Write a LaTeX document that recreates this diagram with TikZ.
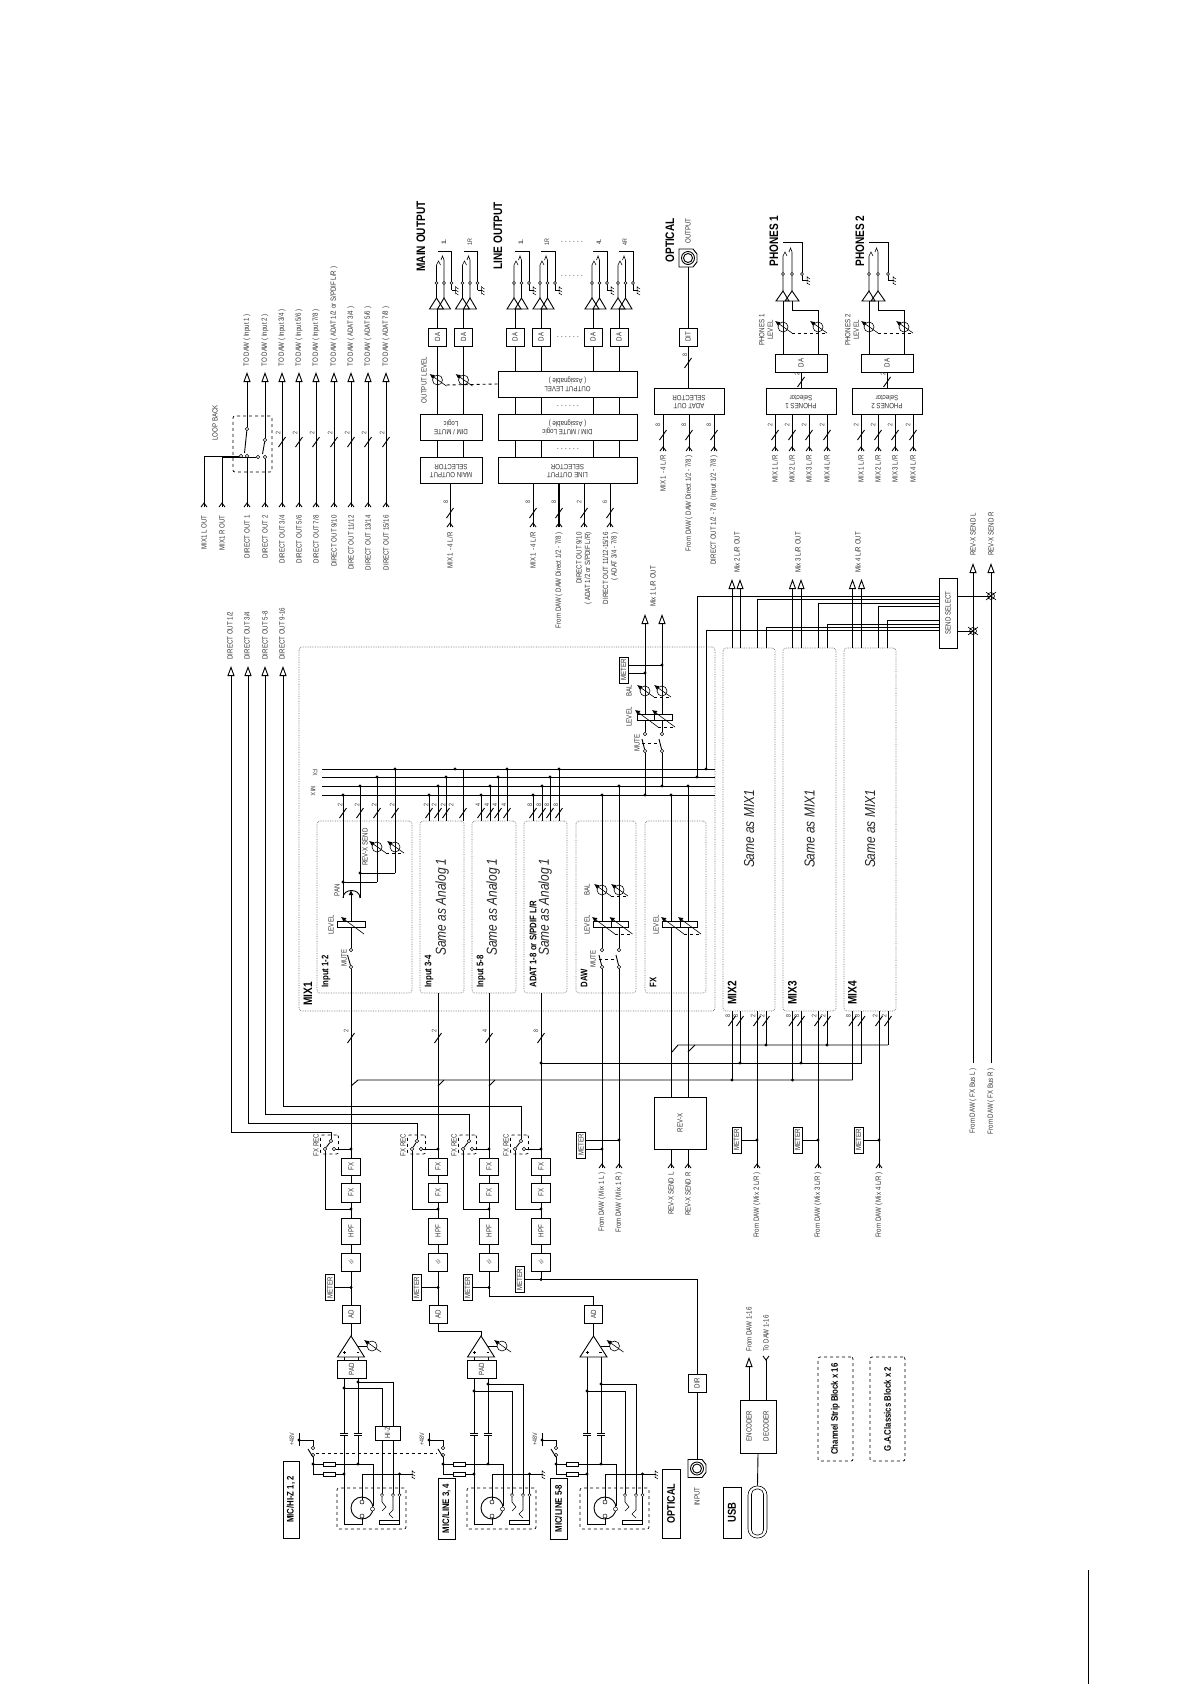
\documentclass[tikz,border=0pt]{standalone}
\usepackage{fontspec}
\setmainfont[FakeStretch=0.82]{Liberation Sans}
\usetikzlibrary{arrows.meta}
\newcommand{\smallfont}{\fontsize{7.5}{8.5}\selectfont}
\newcommand{\vt}[1]{\rotatebox{90}{#1}}
\newcommand{\ud}[1]{\rotatebox{180}{\begin{tabular}{@{}c@{}}#1\end{tabular}}}
\tikzset{
  lab/.style={rotate=90,inner sep=0pt,font=\smallfont,text=black!80},
  num/.style={rotate=90,inner sep=0pt,font=\fontsize{6.5}{7}\selectfont,text=black!80},
  ttl/.style={rotate=90,inner sep=0pt,font=\bfseries\fontsize{12.3}{13}\selectfont},
  bld/.style={rotate=90,inner sep=0pt,font=\bfseries\fontsize{9.5}{10}\selectfont},
  same/.style={rotate=90,inner sep=0pt,font=\itshape\fontsize{14.5}{15}\selectfont,text=black!85},
  blk/.style 2 args={draw,fill=white,inner sep=0pt,minimum width=#1pt,minimum height=#2pt,font=\smallfont,text=black!80},
  grp/.style 2 args={draw=black!55,densely dotted,line width=0.7pt,rounded corners=3pt,inner sep=0pt,minimum width=#1pt,minimum height=#2pt},
  dashbox/.style 2 args={draw,dashed,line width=0.7pt,rounded corners=2pt,inner sep=0pt,minimum width=#1pt,minimum height=#2pt},
  swc/.style={circle,draw,fill=white,inner sep=0pt,minimum size=3.6pt,line width=0.6pt},
  outw/.style={-{Triangle[open,length=10pt,width=7pt]}},
  inhead/.pic={\draw (-3,4) -- (0,0) -- (3,4);},
  slashmark/.pic={\draw (-3.5,5) -- (3.5,-5);},
  potmark/.pic={\draw[line width=0.6pt] (0,0) circle (5);
    \draw[line width=0.6pt,-{Latex[length=5pt,width=4.5pt]}] (9,6) -- (-8,-6);},
  fadearrow/.pic={\draw[line width=0.6pt,-{Latex[length=5pt,width=5pt]}] (13,10) -- (-10,-7);},
  gndmark/.pic={\draw[line width=0.5pt] (0,-4) -- (0,4) (0,-3) -- (3,-1) (0,0) -- (3,2) (0,3) -- (3,5);},
  outjack/.pic={
    \draw (-8,0) -- (-1,-11) -- (6,0) -- cycle;
    \draw (0,0) -- (6.5,-11) -- (13,0) -- cycle;
    \draw[line width=0.6pt] (-1,-11) -- (-1,-44) (-1,-44) -- (1,-48) -- (3,-44);
    \draw[line width=0.6pt] (6.5,-11) -- (6.5,-49) (6.5,-49) -- (5,-53) -- (3.5,-49);
    \draw (14,-19) -- (14,-58) -- (0,-58);
    \draw (14,-19) -- (18,-19);
    \pic at (18,-19) {gndmark};
    \foreach \p in {-1,6.5,14} \draw[fill=white,line width=0.5pt] (\p,-26) circle (1.5);},
  phonejack/.pic={
    \draw (-7,0) -- (0,-10) -- (6,0) -- cycle;
    \draw (2,0) -- (9,-10) -- (16,0) -- cycle;
    \draw[line width=0.6pt] (0,-10) -- (0,-45) (0,-45) -- (2,-49) -- (4,-45);
    \draw[line width=0.6pt] (9,-10) -- (9,-49) (9,-49) -- (7.5,-53) -- (6,-49);
    \draw (19,-21) -- (19,-59) -- (0,-59);
    \draw (19,-21) -- (24,-21);
    \pic at (24,-21) {gndmark};
    \foreach \p in {0,9,19} \draw[fill=white,line width=0.5pt] (\p,-27) circle (1.5);},
  optjack/.pic={
    \draw (-9,-9) -- (5,-9) -- (9,-4) -- (9,4) -- (5,9) -- (-9,9) -- cycle;
    \draw (0,0) circle (6.5) (0,0) circle (4.5);},
  preamp/.pic={
    \draw[fill=white] (-13.5,0) -- (0,-21) -- (13.5,0) -- cycle;
    \draw[line width=0.5pt] (-8,-4.5) -- (-5,-4.5) (-6.5,-6) -- (-6.5,-3) (5.5,-4.5) -- (8,-4.5);
    \draw (7,-11) -- (16,-11);
    \pic at (21,-11) {potmark};},
  sendx/.pic={\draw[line width=0.6pt] (0,0) circle (3.5) (-5,-4) -- (5,4) (-5,4) -- (5,-4);}
}
\begin{document}
\begin{tikzpicture}[x=1pt,y=-1pt,line width=0.9pt]
  \useasboundingbox (0,0) rectangle (1190,1684);

  % loop back and direct outs
  \foreach \n/\c/\txt in {1/204/{MIX1 L OUT},2/222/{MIX1 R OUT},3/247/{DIRECT OUT 1},4/265/{DIRECT OUT 2},
      5/282/{DIRECT OUT 3/4},6/299/{DIRECT OUT 5/6},7/316/{DIRECT OUT 7/8},8/334/{DIRECT OUT 9/10},
      9/351/{DIRECT OUT 11/12},10/368/{DIRECT OUT 13/14},11/386/{DIRECT OUT 15/16}} {
    \node[lab,anchor=east] (dir\n) at (\c,515) {\txt};
    \coordinate (ci\n) at (\c,507);
    \pic at (\c,503) {inhead};
  }
  \foreach \n/\c/\txt in {3/247/{Input 1},4/265/{Input 2},5/282/{Input 3/4},6/299/{Input 5/6},7/316/{Input 7/8},
      8/334/{ADAT 1/2 or  S/PDIF  L/R},9/351/{ADAT 3/4},10/368/{ADAT 5/6},11/386/{ADAT 7/8}} {
    \node[lab,anchor=west] (todaw\n) at (\c,367) {TO DAW ( \txt\ )};
    \coordinate (co\n) at (\c,372);
  }
  \foreach \n/\c in {5/282,6/299,7/316,8/334,9/351,10/368,11/386} {
    \draw[outw] (ci\n) -- (co\n);
    \pic at (\c,442) {slashmark};
    \node[num] (dirnum\n) at ({\c-4},433) {2};
  }
  \node[dashbox={39}{56}] (lbbox) at (252.5,444) {};
  \node[lab] (lbtxt) at (215,423) {LOOP BACK};
  \node[swc] (lba) at (247,429) {};
  \node[swc] (lbb) at (247,456) {};
  \node[swc] (lbc) at (241,456) {};
  \node[swc] (lbd) at (265,440) {};
  \node[swc] (lbe) at (265,457) {};
  \node[swc] (lbf) at (258,457) {};
  \draw[outw] (lba) -- (co3);
  \draw[outw] (lbd) -- (co4);
  \draw (ci3) -- (lbb);
  \draw (ci4) -- (lbe);
  \draw (lba) -- (244.5,453);
  \draw (lbd) -- (262.5,454);
  \draw (ci1) |- (lbc);
  \draw (ci2) |- (lbf);

  % main output
  \node[ttl,anchor=west] (maintxt) at (421,272) {MAIN OUTPUT};
  \node[blk={62}{26}] (mainsel) at (451,470) {\ud{MAIN OUTPUT\\SELECTOR}};
  \node[blk={62}{26}] (mainmute) at (451,427) {\ud{DIM / MUTE\\Logic}};
  \foreach \n/\c/\t in {1/437.5/1L,2/463.5/1R} {
    \node[blk={18}{18}] (dam\n) at (\c,337) {\vt{DA}};
    \draw (dam\n.north) -- (\c,309);
    \pic at (\c,309) {outjack};
    \draw (mainmute.north -| dam\n) -- (dam\n.south);
    \draw (mainsel.north -| dam\n) -- (mainmute.south -| dam\n);
    \pic at (\c,380) {potmark};
    \node[num] (mainch\n) at ({\c+6.5},242) {\t};
  }
  \coordinate (mainin) at (450,527);
  \draw (mainin) -- (mainin |- mainsel.south);
  \pic at (450,523) {inhead};
  \pic at (450,513) {slashmark};
  \node[num] (mainnum) at (446,502) {8};
  \node[lab,anchor=east] (maininl) at (450,532) {MIX 1 - 4 L/R};
  \node[lab] (mainlvl) at (424,380) {OUTPUT LEVEL};

  % line output
  \node[ttl,anchor=west] (linettl) at (498,270) {LINE OUTPUT};
  \node[blk={139}{26}] (linelvl) at (567.5,384) {\ud{OUTPUT LEVEL\\( Assignable )}};
  \node[blk={139}{26}] (linemute) at (567.5,427) {\ud{DIM / MUTE Logic\\( Assignable )}};
  \node[blk={139}{26}] (linesel) at (567.5,470) {\ud{LINE OUTPUT\\SELECTOR}};
  \draw[dashed] (linelvl.west) -- (445,385);
  \foreach \n/\c/\t in {1/515/1L,2/541/1R,3/593/4L,4/619/4R} {
    \node[blk={18}{18}] (dal\n) at (\c,337) {\vt{DA}};
    \draw (dal\n.north) -- (\c,309);
    \pic at (\c,309) {outjack};
    \draw (linelvl.north -| dal\n) -- (dal\n.south);
    \draw (linemute.north -| dal\n) -- (linelvl.south -| dal\n);
    \draw (linesel.north -| dal\n) -- (linemute.south -| dal\n);
    \node[num] (linech\n) at ({\c+6},242) {\t};
  }
  \foreach \n/\c/\m in {1/533/8,2/559/8,3/584/2,4/610/6} {
    \coordinate (linein\n) at (\c,527);
    \draw[line width={\n==2 ? 1.5pt : 0.9pt}] (linein\n) -- (linein\n |- linesel.south);
    \pic at (\c,523) {inhead};
    \pic at (\c,513) {slashmark};
    \node[num] (linenum\n) at ({\c-5},502) {\m};
  }
  \node[lab,anchor=east] (lineinla) at (533,532) {MIX 1 - 4 L/R};
  \node[lab,anchor=east] (lineinlb) at (559,532) {From DAW ( DAW Direct 1/2 - 7/8 )};
  \node[lab,anchor=east,align=right] (lineinlc) at (584,532) {DIRECT OUT 9/10\\( ADAT 1/2 or S/PDIF L/R)};
  \node[lab,anchor=east,align=right] (lineinld) at (610.5,532) {DIRECT OUT 11/12-15/16\\( ADAT 3/4 - 7/8 )};
  \foreach \n/\x/\y in {1/572/242,2/572/276,3/568/337,4/568/406,5/568/449} {
    \node[inner sep=0pt,font=\smallfont] (linedots\n) at (\x,\y) {. . . . . .};
  }

  % optical output
  \node[ttl,anchor=west] (optoutttl) at (670,263) {OPTICAL};
  \node[lab,anchor=west] (optoutl) at (688,244) {OUTPUT};
  \pic at (688,258) {optjack};
  \coordinate (optout) at (688,267);
  \node[blk={18}{18}] (dit) at (688,337) {\vt{DIT}};
  \node[blk={70}{26}] (adatsel) at (689,401) {\ud{ADAT OUT\\SELECTOR}};
  \draw (optout) -- (dit.north);
  \draw (dit.south) -- (dit.south |- adatsel.north);
  \pic at (688,363) {slashmark};
  \node[num] (ditnum) at (685,355) {8};
  \foreach \n/\c/\txt in {1/663/{MIX 1 - 4 L/R},2/689/{From DAW ( DAW Direct 1/2 - 7/8 )},3/714/{DIRECT OUT 1/2 - 7/8  ( Input 1/2 - 7/8 )}} {
    \coordinate (adin\n) at (\c,451);
    \draw (adin\n) -- (adin\n |- adatsel.south);
    \pic at (\c,447) {inhead};
    \pic at (\c,435) {slashmark};
    \node[num] (adnum\n) at ({\c-5},425) {8};
    \node[lab,anchor=east] (adlab\n) at (\c,455) {\txt};
  }

  % phones
  \foreach \p/\dx in {1/0,2/86} {
    \begin{scope}[shift={(\dx,0)}]
      \node[ttl,anchor=west] (phttl\p) at (774,267) {PHONES \p};
      \pic at (783,301) {phonejack};
      \node[blk={52}{18}] (phda\p) at (801,363) {\vt{DA}};
      \node[blk={70}{26}] (phsel\p) at (801,401) {\ud{PHONES \p\\Selector}};
      \coordinate (phl\p) at (783,301);
      \coordinate (phr\p) at (792,301);
      \coordinate (phm\p) at (818,310);
      \draw (phl\p) -- (phl\p |- phda\p.north);
      \draw (phr\p) |- (phm\p) -- (phm\p |- phda\p.north);
      \pic at (783,327) {potmark};
      \pic at (818,327) {potmark};
      \draw[dashed,line width=0.7pt] (792,333) -- (827,333);
      \node[lab,align=center] (phlev\p) at (766,330) {PHONES \p\\LEVEL};
      \draw (phda\p.south) -- (phsel\p.north);
      \pic at (801,382) {slashmark};
      \node[num] (phnum\p) at (797,374) {2};
      \foreach \n/\c in {1/775,2/792,3/809,4/827} {
        \coordinate (phin\p\n) at (\c,451);
        \draw (phin\p\n) -- (phin\p\n |- phsel\p.south);
        \pic at (\c,447) {inhead};
        \pic at (\c,435) {slashmark};
        \node[num] (phinn\p\n) at ({\c-5},425) {2};
        \node[lab,anchor=east] (phinl\p\n) at (\c,455) {MIX \n\ L/R};
      }
    \end{scope}
  }

  % mix 1 frame and bus
  \node[grp={416}{364}] (mix1) at (507,829) {};
  \node[ttl,anchor=west] (mix1ttl) at (308,1006) {MIX1};
  \foreach \n/\x/\w in {1/364.5/95,2/442/44,3/494/44,4/545.5/43,5/606/60,6/675.5/61} {
    \node[grp={\w}{172}] (sub\n) at (\x,907) {};
  }
  \foreach \n/\x/\txt in {1/326/{Input 1-2},2/429/{Input 3-4},3/481/{Input 5-8},4/533/{ADAT 1-8 or S/PDIF L/R},5/584/DAW,6/653/FX} {
    \node[bld,anchor=west] (subl\n) at (\x,988) {\txt};
  }
  \foreach \n/\x in {2/442,3/493,4/545} {
    \node[same] (samea\n) at (\x,907) {Same as Analog 1};
  }
  \foreach \n/\y in {a/769,b/777,c/786,d/795} {
    \coordinate (busl\n) at (322,\y);
    \coordinate (busr\n) at (715,\y);
    \draw (busl\n) -- (busr\n);
  }
  \node[num,rotate=90] (busfx) at (315,773) {\rotatebox{90}{FX}};
  \node[num,rotate=90] (busmix) at (313,791) {\rotatebox{90}{MIX}};
  % taps down to the strips
  \foreach \c/\y/\b/\m/\nx in {343/795/898/2/340,360/786/898/2/357,377/777/882/2/374,395/769/873/2/392,
      429/795/821/2/426,438/786/821/2/434,446/777/821/2/443,463/769/821/2/451,
      481/795/821/4/478,490/786/821/4/487,498/777/821/4/495,507/769/821/4/504,
      533/795/821/8/530,542/786/821/8/539,550/777/821/8/547,559/769/821/8/556} {
    \draw (\c,\y) -- (\c,\b);
    \pic at (\c,813) {slashmark};
    \node[num] (tap\c) at (\nx,805) {\m};
  }
  \foreach \c/\y in {343/795,360/786,377/777,395/769,429/795,438/786,446/777,455/769,
      481/795,490/786,498/777,507/769,533/795,542/786,550/777,559/769,
      602/795,619/786,671/795,688/786,645/795,662/786,697/777,706/769} {
    \fill (\c,\y) circle (1.7);
  }

  % input 1-2 strip
  \node[swc] (muta) at (351,950) {};
  \node[swc] (mutb) at (351,967) {};
  \node[blk={28}{6}] (lev1) at (351,924) {};
  \draw (lev1.south) -- (muta);
  \draw (mutb) -- (347.5,955);
  \pic at (351,924) {fadearrow};
  \draw (343,898) .. controls (343,888) and (360,888) .. (360,898);
  \draw[-{Latex[length=5pt,width=5pt]}] (lev1.north) -- (351,890);
  \draw (343,882) -- (377,882);
  \draw (360,873) -- (395,873);
  \fill (343,882) circle (1.7);
  \fill (360,873) circle (1.7);
  \pic at (377,847) {potmark};
  \pic at (395,847) {potmark};
  \draw[dashed,line width=0.6pt] (386,853) -- (404,853);
  \node[lab] (revsend) at (365,847) {REV-X SEND};
  \node[lab] (panl) at (337,890) {PAN};
  \node[lab] (levl1) at (331,925) {LEVEL};
  \node[lab] (mutl1) at (344,958) {MUTE};

  % daw and fx strips
  \foreach \n/\c/\y in {1/602/795,2/619/786} {
    \coordinate (dawt\n) at (\c,\y);
    \node[swc] (dawa\n) at (\c,950) {};
    \node[swc] (dawb\n) at (\c,967) {};
    \coordinate (dawi\n) at (\c,1168);
    \draw (dawt\n) -- (dawa\n);
    \draw (dawb\n) -- (dawi\n);
    \draw (dawb\n) -- ({\c-3},955);
    \pic at (\c,1164) {inhead};
    \pic at (\c,890) {potmark};
  }
  \node[blk={35}{6}] (lev2) at (610.5,924) {};
  \draw[line width=0.7pt] (611,921) -- (611,927);
  \pic at (602,924) {fadearrow};
  \pic at (619.5,924) {fadearrow};
  \draw[dashed,line width=0.6pt] (615,934) -- (632,934);
  \draw[dashed,line width=0.6pt] (599,959) -- (617,959);
  \draw[dashed,line width=0.6pt] (611,896) -- (628,896);
  \node[lab] (ball) at (587,890) {BAL};
  \node[lab] (levl2) at (587,925) {LEVEL};
  \node[lab] (mutl2) at (593,959) {MUTE};
  \node[blk={35}{6}] (lev3) at (679.5,924) {};
  \node[blk={52}{52}] (revx) at (680,1123) {\vt{REV-X}};
  \foreach \n/\c/\y/\t in {1/671/795/L,2/688/786/R} {
    \coordinate (fxt\n) at (\c,\y);
    \coordinate (revi\n) at (\c,1168);
    \draw (fxt\n) -- (fxt\n |- lev3.north);
    \draw (lev3.south -| fxt\n) -- (fxt\n |- revx.north);
    \draw (revi\n) -- (revi\n |- revx.south);
    \pic at (\c,1164) {inhead};
    \node[lab,anchor=east] (revl\n) at (\c,1172) {REV-X SEND \t};
  }
  \draw[line width=0.7pt] (680,921) -- (680,927);
  \pic at (671,924) {fadearrow};
  \pic at (688,924) {fadearrow};
  \draw[dashed,line width=0.6pt] (684,934) -- (701,934);
  \node[lab] (levl3) at (656,925) {LEVEL};
  \node[lab,anchor=east] (dawl1) at (602,1172) {From DAW ( Mix 1 L )};
  \node[lab,anchor=east] (dawl2) at (619,1172) {From DAW ( Mix 1 R )};
  \node[blk={9}{26}] (meterd) at (581,1145) {\vt{METER}};
  \draw (meterd.east |- 0,1140) -- (619,1140);
  \draw (meterd.east |- 0,1149) -- (602,1149);
  \fill (619,1140) circle (1.7);
  \fill (602,1149) circle (1.7);

  % mix 1 master
  \node[blk={35}{6}] (levm) at (654.5,717) {};
  \node[blk={9}{26}] (meterm) at (623.5,670) {\vt{METER}};
  \foreach \n/\c/\y/\my in {1/645/795/673,2/662/786/665} {
    \coordinate (mast\n) at (\c,\y);
    \coordinate (mastt\n) at (\c,614);
    \node[swc] (masa\n) at (\c,751) {};
    \node[swc] (masb\n) at (\c,734) {};
    \draw (mast\n) -- (masa\n);
    \draw (masb\n) -- (masb\n |- levm.south);
    \draw (masa\n) -- ({\c-3},739);
    \draw[outw] (masb\n |- levm.north) -- (mastt\n);
    \pic at (\c,691) {potmark};
    \draw (meterm.east |- 0,\my) -- (\c,\my);
    \fill (\c,\my) circle (1.7);
    \pic at (\c,717) {fadearrow};
  }
  \draw[line width=0.7pt] (654,714) -- (654,720);
  \draw[dashed,line width=0.6pt] (658,727) -- (675,727);
  \draw[dashed,line width=0.6pt] (642,743) -- (660,743);
  \draw[dashed,line width=0.6pt] (654,697) -- (671,697);
  \node[lab] (balm) at (629,691) {BAL};
  \node[lab] (levlm) at (629,717) {LEVEL};
  \node[lab] (mutlm) at (637,743) {MUTE};
  \node[lab,anchor=west] (mix1out) at (653,607) {Mix 1 L/R OUT};

  % mix 2-4 and send select
  \node[blk={18}{70}] (sendsel) at (948,613) {\vt{SEND SELECT}};
  \foreach \m/\x/\w/\a/\b/\cc/\d/\lx in {2/749/52/732/740/757/766/737,3/809.5/53/792.5/801/818/827/798,4/870/52/852.5/861.5/879/888/858} {
    \node[grp={\w}{363}] (mix\m) at (\x,829.5) {};
    \node[ttl,anchor=west] (mixttl\m) at (\a,1005) {MIX\m};
    \node[same] (same\m) at (\x,829) {Same as MIX1};
    \node[lab,anchor=west] (mixo\m) at (\lx,573) {Mix \m\ L/R OUT};
    \draw[outw] (\a,648) -- (\a,579);
    \draw[outw] (\b,648) -- (\b,579);
    \draw (\a,1011) -- (\a,1080);
    \draw (\b,1011) -- (\b,1063);
    \draw (\cc,1011) -- (\cc,1168);
    \draw (\d,1011) -- (\d,1045);
    \foreach \c/\t in {\a/8,\b/8,\cc/2,\d/2} {
      \pic at (\c,1021) {slashmark};
      \node[num] (mnum\m\t\c) at ({\c-4},1016) {\t};
    }
    \pic at (\cc,1164) {inhead};
    \node[blk={9}{26}] (meter\m) at ({\cc-20.5},1140) {\vt{METER}};
    \draw (meter\m.east) -- (\cc,1140);
    \fill (\cc,1140) circle (1.7);
    \node[lab,anchor=east] (dawm\m) at (\cc,1172) {From DAW ( Mix \m\ L/R )};
  }
  \foreach \c/\y/\b in {697/596/777,706/630/769,757/599/648,766/627/648,818/603/648,827/624/648,878/606/648,887/620/648} {
    \draw (\c,\b) |- (939,\y);
  }
  \foreach \n/\y/\x/\t in {1/631/973/L,2/596/991/R} {
    \coordinate (sx\n) at (\x,\y);
    \draw (sendsel.east |- sx\n) -- (sx\n);
    \coordinate (rxb\n) at (\x,1063);
    \coordinate (rxt\n) at (\x,563);
    \draw[outw] (rxb\n) -- (rxt\n);
    \pic at (sx\n) {sendx};
    \node[lab,anchor=west] (rxl\n) at (\x,556) {REV-X SEND \t};
    \node[lab,anchor=east] (rxf\n) at (\x,1068) {From DAW ( FX Bus \t\ )};
  }
  % returns into the mixes
  \draw (351,1086) -- (358,1080) -- (852.5,1080);
  \draw (438,1086) -- (444,1080);
  \draw (489,1086) -- (495,1080);
  \draw (541,1063) -- (861.5,1063);
  \fill (541,1063) circle (1.7);
  \draw (672,1052) -- (678,1045) -- (888,1045);
  \draw (688,1052) -- (695,1045);
  \foreach \c/\y in {732/1080,792.5/1080,740/1063,801/1063,766/1045,827/1045} {
    \fill (\c,\y) circle (1.7);
  }

  % input channels
  \foreach \n/\c/\swl/\swt/\swr/\dc/\dy/\mx/\my in {1/351/325/331/334/231/1132/330/1287.5,2/438/412/417/421/248/1123/416.5/1287.5,
      3/489/463/469/472/265/1114/467.5/1287.5,4/541/515/521/524/283/1106/519.5/1279.5} {
    \node[blk={19}{17}] (fxa\n) at (\c,1166.5) {\vt{FX}};
    \node[blk={19}{19}] (fxb\n) at (\c,1192.5) {\vt{FX}};
    \node[blk={19}{26}] (hpf\n) at (\c,1231) {\vt{HPF}};
    \node[blk={19}{18}] (phi\n) at (\c,1262) {\vt{$\phi$}};
    \node[blk={9}{26}] (met\n) at (\mx,\my) {\vt{METER}};
    \coordinate (rec\n) at (\c,1149);
    \coordinate (tap\n) at (\c,1209);
    \draw (rec\n) -- (fxa\n);
    \draw (fxa\n) -- (fxb\n);
    \draw (fxb\n) -- (hpf\n);
    \draw (hpf\n) -- (phi\n);
    \node[swc] (swl\n) at (\swl,1149) {};
    \node[swc] (swr\n) at (\swr,1149) {};
    \node[swc] (swt\n) at (\swt,1141) {};
    \draw (swr\n) -- (rec\n);
    \draw (swl\n) |- (tap\n);
    \draw (swl\n) -- (swt\n);
    \fill (rec\n) circle (1.7);
    \fill (tap\n) circle (1.7);
    \node[dashbox={18}{19}] (swb\n) at ({(\swl+\swr)/2},1144.5) {};
    \node[lab] (recl\n) at ({\swl-9},1145) {FX REC};
    \coordinate (dcm\n) at (\dc,\dy);
    \coordinate (dct\n) at (\dc,666);
    \draw[outw] (swt\n) |- (dcm\n) -- (dct\n);
    \pic at (\c,1038) {slashmark};
  }
  \foreach \n/\x/\m in {1/346/2,2/434/2,3/485/4,4/536/8} {
    \node[num] (chnum\n) at (\x,1031) {\m};
  }
  \node[lab,anchor=west] (dol1) at (230,660) {DIRECT OUT 1/2};
  \node[lab,anchor=west] (dol2) at (247,660) {DIRECT OUT 3/4};
  \node[lab,anchor=west] (dol3) at (265,660) {DIRECT OUT 5-8};
  \node[lab,anchor=west] (dol4) at (282,660) {DIRECT OUT 9-16};
  \draw (rec1) -- (mutb);
  \draw (rec2) -- (rec2 |- sub2.south);
  \draw (rec3) -- (rec3 |- sub3.south);
  \draw (rec4) -- (rec4 |- sub4.south);

  % preamps and inputs
  \node[blk={18}{18}] (ad1) at (351,1314) {\vt{AD}};
  \node[blk={18}{18}] (ad2) at (438,1314) {\vt{AD}};
  \node[blk={18}{18}] (ad3) at (593.5,1314) {\vt{AD}};
  \coordinate (tri1) at (351,1336);
  \coordinate (tri2) at (481,1336);
  \coordinate (tri3) at (593.5,1336);
  \draw (phi1) -- (ad1);
  \draw (phi2) -- (ad2);
  \draw (phi3.south) |- (593.5,1296) -- (ad3.north);
  \draw (ad1) -- (tri1);
  \draw (ad3) -- (tri3);
  \draw (ad2.south) |- (481,1331) -- (tri2);
  \foreach \n/\c in {1/351,2/438,3/489} {
    \draw (met\n.east) -- (\c,1287.5);
    \fill (\c,1287.5) circle (1.7);
  }
  \node[blk={18}{18}] (dirbox) at (697,1383) {\vt{DIR}};
  \draw (phi4.south) -- (541,1279.5);
  \fill (541,1279.5) circle (1.7);
  \draw (met4.east) -| (dirbox.north);
  \coordinate (optin) at (697,1460);
  \draw (dirbox.south) -- (optin);
  \pic at (697,1468.5) {optjack};
  \node[lab,anchor=east] (optinl) at (697,1487) {INPUT};
  \foreach \n/\c/\lo/\hi in {1/344/1388/1382,2/474/1391/1384,3/587/1391/1384} {
    \begin{scope}[shift={(\c,0)}]
      \node[dashbox={69}{41}] (micbox\n) at (27.5,1508.5) {};
      \draw (0,1357) -- (0,1433) (0,1435) -- (0,1524) -- (18,1524) -- (18,1518);
      \draw (14,1357) -- (14,1433) (14,1435) -- (14,1464);
      \draw (-4,1433) -- (4,1433) (-4,1435) -- (4,1435) (10,1433) -- (18,1433) (10,1435) -- (18,1435);
      \node[blk={12}{4}] (ra\n) at (-15,1464) {};
      \node[blk={12}{4}] (rb\n) at (-15,1474) {};
      \coordinate (swj\n) at (-31,1464);
      \draw (swj\n) -- (ra\n);
      \draw (ra\n) -- (29,1464) -- (29,1506);
      \draw (swj\n) |- (rb\n);
      \draw (rb\n) -- (0,1474);
      \fill (swj\n) circle (1.7) (0,1474) circle (1.7) (14,1464) circle (1.7);
      \fill (0,\lo) circle (1.7) (14,\hi) circle (1.7);
      \node[swc] (ph\n a) at (-31,1448) {};
      \node[swc] (ph\n b) at (-31,1455) {};
      \draw (-45,1440) -| (ph\n a);
      \draw (ph\n b) -- (swj\n);
      \draw (-36,1449) -- (-31,1457);
      \draw (-45,1433) -- (-45,1446);
      \fill (-45,1440) circle (1.7);
      \node[num] (phan\n) at (-52,1439) {+48V};
      \draw (18,1502) -- (18,1474) -- (68,1474);
      \pic at (68,1474) {gndmark};
      \fill (55.5,1474) circle (1.7);
      \draw (55.5,1474) -- (55.5,1494);
      \draw (55.5,1497) -- (55.5,1524) -- (35,1524) -- (35,1520) -- (55.5,1520);
      \draw (0,\lo) -- (38,\lo) -- (38,1494);
      \draw (14,\hi) -- (49,\hi) -- (49,1494);
      \draw[line width=0.6pt] (38,1497) -- (38,1502) -- (42,1507) -- (38,1511);
      \draw[line width=0.6pt] (49,1497) -- (49,1510) -- (45,1514) -- (49,1518);
      \foreach \p in {38,49,55.5} \draw[fill=white,line width=0.5pt] (\p,1495) circle (1.6);
      \draw (18,1508) circle (11);
      \foreach \p/\q in {18/1502,28.5/1509,18/1516} \draw[fill=white,line width=0.5pt] (\p,\q) circle (2);
    \end{scope}
  }
  \draw[dashed,line width=0.7pt] (316,1453) -- (437,1453);
  \pic at (351,1357) {preamp};
  \pic at (481,1357) {preamp};
  \pic at (593.5,1357) {preamp};
  \node[blk={29}{18}] (pad1) at (351.5,1369) {\vt{PAD}};
  \node[blk={29}{18}] (pad2) at (481.5,1369) {\vt{PAD}};
  \node[blk={25}{14}] (hiz) at (387.5,1433) {\vt{HI-Z}};
  \node[blk={16}{77},font=\bfseries\fontsize{9.5}{10}\selectfont,text=black] (mic1) at (291,1499.5) {\vt{MIC/HI-Z 1, 2}};
  \node[blk={17}{61},font=\bfseries\fontsize{9.5}{10}\selectfont,text=black] (mic2) at (446.5,1508.5) {\vt{MIC/LINE 3, 4}};
  \node[blk={17}{61},font=\bfseries\fontsize{9.5}{10}\selectfont,text=black] (mic3) at (558.5,1508.5) {\vt{MIC/LINE 5-8}};
  \node[blk={18}{69},font=\bfseries\fontsize{11}{12}\selectfont,text=black] (optinbox) at (671,1503.5) {\vt{OPTICAL}};

  % usb
  \node[blk={18}{51},font=\bfseries\fontsize{11.5}{12}\selectfont,text=black] (usbname) at (732,1512.5) {\vt{USB}};
  \node[draw,rounded corners=9pt,line width=0.6pt,inner sep=0pt,minimum width=19pt,minimum height=52pt] (usbo) at (757.5,1512) {};
  \node[draw,rounded corners=5pt,line width=0.6pt,inner sep=0pt,minimum width=12pt,minimum height=46pt] (usbi) at (757.5,1512) {};
  \node[blk={36}{53}] (codec) at (758,1426.5) {};
  \node[lab] (enc) at (749,1426) {ENCODER};
  \node[lab] (dec) at (766,1426) {DECODER};
  \draw (codec.south) -- (usbo.north);
  \coordinate (usbtx) at (749,1357);
  \coordinate (usbrx) at (766,1360);
  \draw[outw] (codec.north -| usbtx) -- (usbtx);
  \draw (codec.north -| usbrx) -- (usbrx);
  \draw (763,1356) -- (usbrx) -- (769,1356);
  \node[lab,anchor=west] (usbl1) at (749,1352) {From DAW 1-16};
  \node[lab,anchor=west] (usbl2) at (766,1352) {To DAW 1-16};

  % block counts
  \node[dashbox={35}{104}] (stripcnt) at (835.5,1409) {};
  \node[dashbox={35}{104}] (classcnt) at (887.5,1409) {};
  \node[bld] (striptxt) at (835.5,1409) {Channel Strip Block x 16};
  \node[bld] (classtxt) at (887.5,1409) {G.A.Classics Block x 2};

  \draw (1088,1570) -- (1088,1684);
\end{tikzpicture}
\end{document}
